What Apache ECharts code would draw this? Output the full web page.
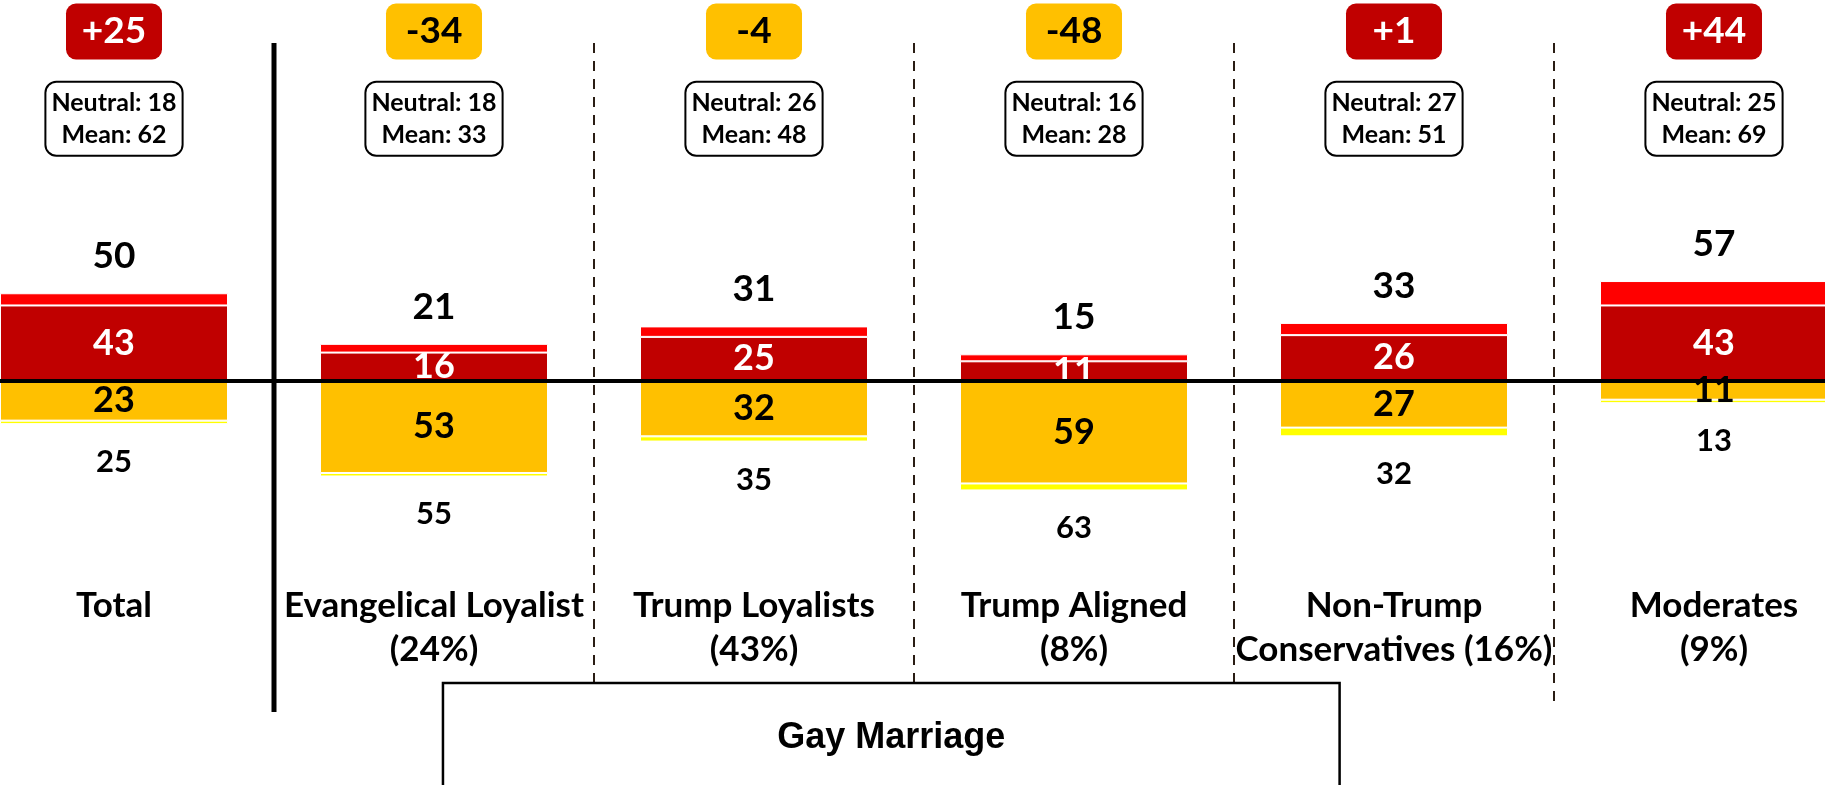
<!DOCTYPE html>
<html>
<head>
<meta charset="utf-8">
<script src="https://cdn.jsdelivr.net/npm/echarts@6/dist/echarts.min.js"></script>
<style>
  html, body { margin: 0; padding: 0; background: #fff; }
  #chart { width: 1825px; height: 785px; }
</style>
</head>
<body>
<div id="chart"></div>
<script>
// Data
const categories = [
    "Total",
    "Evangelical Loyalist\n(24%)",
    "Trump Loyalists\n(43%)",
    "Trump Aligned\n(8%)",
    "Non-Trump\nConservatives (16%)",
    "Moderates\n(9%)"
];
const strongFavor = [43, 16, 25, 11, 26, 43];
const somewhatFavor = [7, 5, 6, 4, 7, 14];
const strongOppose = [23, 53, 32, 59, 27, 11];
const somewhatOppose = [2, 2, 3, 4, 5, 2];
const favorTotals = [50, 21, 31, 15, 33, 57];
const opposeTotals = [25, 55, 35, 63, 32, 13];
const netScores = [25, -34, -4, -48, 1, 44];
const neutralShares = [18, 18, 26, 16, 27, 25];
const meanScores = [62, 33, 48, 28, 51, 69];
const chartTitle = "Gay Marriage";

const FONT = "Lato, 'Open Sans', sans-serif";
const DARK_RED = "#C00000";
const RED = "#FF0000";
const ORANGE = "#FFC000";
const YELLOW = "#FFFF00";

const chart = echarts.init(document.getElementById("chart"));

// dividers between groups: [after category index, top value, bottom value, solid?]
const dividers = [
    [0, 193.4, -190, 1],
    [1, 193.4, -173.4, 0],
    [2, 193.4, -173.4, 0],
    [3, 193.4, -173.4, 0],
    [4, 193.4, -187.4, 0]
];

const barBase = {
    type: "bar",
    stack: "total",
    barWidth: 228,
    emphasis: { disabled: true },
    silent: true
};

const option = {
    animation: false,
    backgroundColor: "#fff",
    grid: { left: -46, right: -49, top: 206, bottom: 230, outerBoundsMode: "none", containLabel: false },
    xAxis: {
        type: "category",
        data: categories,
        axisLine: { show: false },
        axisTick: { show: false },
        splitLine: { show: false },
        axisLabel: {
            interval: 0,
            margin: 29,
            color: "#000",
            fontFamily: FONT,
            fontWeight: "bold",
            fontSize: 35,
            lineHeight: 44
        }
    },
    yAxis: {
        type: "value",
        min: -100,
        max: 100,
        show: false,
        splitLine: { show: false }
    },
    series: [
        Object.assign({}, barBase, {
            name: "Strongly favor",
            data: strongFavor,
            itemStyle: { color: DARK_RED, borderColor: "#fff", borderWidth: 1 },
            label: {
                show: true,
                position: "inside",
                color: "#fff",
                fontFamily: FONT,
                fontWeight: "bold",
                fontSize: 36
            }
        }),
        Object.assign({}, barBase, {
            name: "Somewhat favor",
            data: somewhatFavor,
            itemStyle: { color: RED, borderColor: "#fff", borderWidth: 1 },
            label: {
                show: true,
                position: "top",
                distance: 17,
                color: "#000",
                fontFamily: FONT,
                fontWeight: "bold",
                fontSize: 37,
                lineHeight: 40,
                formatter: p => favorTotals[p.dataIndex]
            }
        }),
        Object.assign({}, barBase, {
            name: "Strongly oppose",
            data: strongOppose.map(v => -v),
            itemStyle: { color: ORANGE, borderColor: "#fff", borderWidth: 1 },
            label: {
                show: true,
                position: "inside",
                color: "#000",
                fontFamily: FONT,
                fontWeight: "bold",
                fontSize: 36,
                formatter: p => strongOppose[p.dataIndex]
            },
            markLine: {
                silent: true,
                symbol: "none",
                z: 10,
                label: { show: false },
                lineStyle: { color: "#000", width: 4, type: "solid" },
                data: [{ yAxis: 0 }]
            }
        }),
        Object.assign({}, barBase, {
            name: "Somewhat oppose",
            data: somewhatOppose.map(v => -v),
            itemStyle: { color: YELLOW, borderColor: "#fff", borderWidth: 1 },
            label: {
                show: true,
                position: "bottom",
                distance: 21,
                color: "#000",
                fontFamily: FONT,
                fontWeight: "bold",
                fontSize: 31,
                lineHeight: 34,
                formatter: p => opposeTotals[p.dataIndex]
            }
        }),
        {
            // net score boxes
            type: "scatter",
            clip: false,
            silent: true,
            symbolSize: 1,
            itemStyle: { color: "rgba(0,0,0,0)", opacity: 1 },
            data: netScores.map((v, i) => ({
                value: [i, 200],
                label: {
                    backgroundColor: v > 0 ? DARK_RED : ORANGE,
                    color: v > 0 ? "#fff" : "#000"
                }
            })),
            label: {
                show: true,
                position: "inside",
                fontFamily: FONT,
                fontWeight: "bold",
                fontSize: 37,
                width: 68,
                height: 44,
                lineHeight: 44,
                align: "center",
                verticalAlign: "middle",
                padding: [6, 14],
                borderRadius: 10,
                formatter: p => {
                    const v = netScores[p.dataIndex];
                    return (v > 0 ? "+" : "") + v;
                }
            }
        },
        {
            // neutral / mean boxes
            type: "scatter",
            clip: false,
            silent: true,
            symbolSize: 1,
            itemStyle: { color: "rgba(0,0,0,0)", opacity: 1 },
            data: neutralShares.map((v, i) => [i, 150]),
            label: {
                show: true,
                position: "inside",
                color: "#000",
                fontFamily: FONT,
                fontWeight: "bold",
                fontSize: 25,
                lineHeight: 32,
                align: "center",
                backgroundColor: "#fff",
                borderColor: "#000",
                borderWidth: 2,
                borderRadius: 10,
                padding: [4, 5],
                formatter: p => "Neutral: " + neutralShares[p.dataIndex] + "\nMean: " + meanScores[p.dataIndex]
            }
        },
        {
            // group dividers
            type: "custom",
            silent: true,
            clip: false,
            data: dividers,
            renderItem: (params, api) => {
                const band = api.size([1, 0])[0];
                const top = api.coord([api.value(0), api.value(1)]);
                const bottom = api.coord([api.value(0), api.value(2)]);
                const x = top[0] + band / 2;
                const solid = api.value(3) === 1;
                return {
                    type: "line",
                    shape: { x1: x, y1: top[1], x2: x, y2: bottom[1] },
                    style: {
                        stroke: solid ? "#000" : "#2a1d14",
                        lineWidth: solid ? 5 : 2,
                        lineDash: solid ? null : [10, 8]
                    }
                };
            }
        },
        {
            // title box at the bottom
            type: "custom",
            silent: true,
            clip: false,
            data: [[1, -173.4, -240]],
            renderItem: (params, api) => {
                const band = api.size([1, 0])[0];
                const a = api.coord([api.value(0), api.value(1)]);
                const b = api.coord([api.value(0), api.value(2)]);
                const x0 = a[0] + 0.028 * band;
                const x1 = a[0] + 2.83 * band;
                return {
                    type: "group",
                    children: [
                        {
                            type: "rect",
                            shape: { x: x0, y: a[1], width: x1 - x0, height: b[1] - a[1] },
                            style: { fill: "#fff", stroke: "#000", lineWidth: 2.5 }
                        },
                        {
                            type: "text",
                            style: {
                                text: chartTitle,
                                x: (x0 + x1) / 2,
                                y: a[1] + 55,
                                align: "center",
                                verticalAlign: "middle",
                                fill: "#000",
                                fontSize: 36,
                                fontWeight: "bold",
                                fontFamily: "'Liberation Sans', Arial, sans-serif"
                            }
                        }
                    ]
                };
            }
        }
    ]
};

chart.setOption(option);
window.addEventListener("resize", () => chart.resize());
</script>
</body>
</html>
